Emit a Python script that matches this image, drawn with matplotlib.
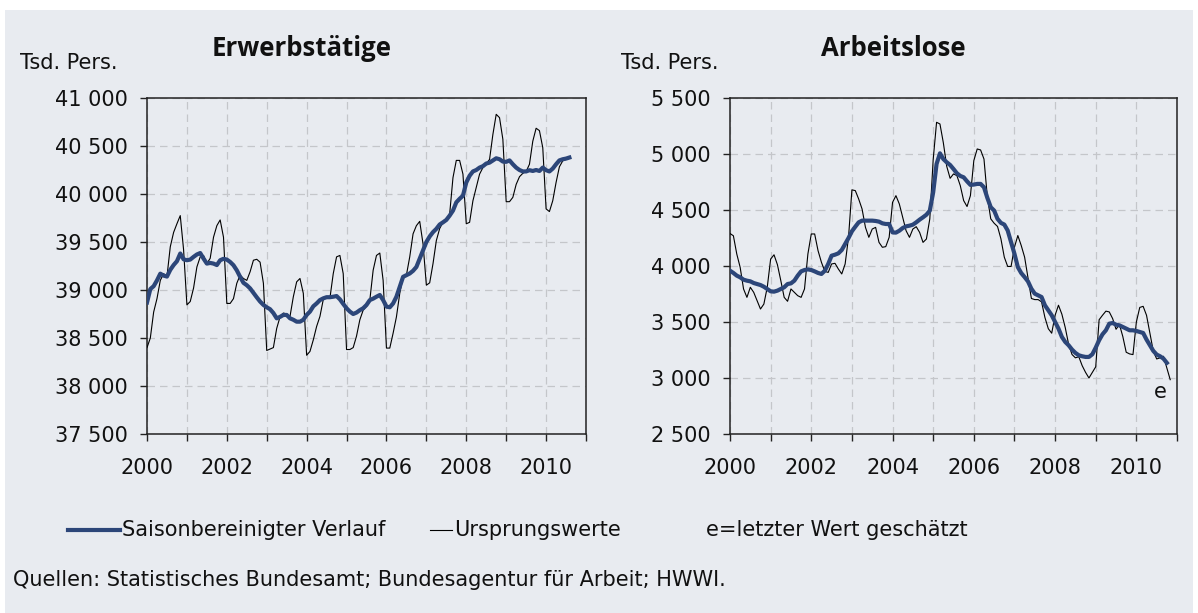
import numpy as np
import matplotlib
matplotlib.use("Agg")
import matplotlib.pyplot as plt
import matplotlib.patches as mpatches
from matplotlib.lines import Line2D
from matplotlib.ticker import FuncFormatter

plt.rcParams['font.family'] = ['DejaVu Sans']

# ---------------- data (monthly, Jan 2000 onwards) ----------------
erw_orig = [
    38400, 38500, 38770, 38910, 39100, 39170, 39140, 39450, 39600, 39690, 39775, 39420,
    38845, 38880, 39020, 39240, 39345, 39360, 39275, 39330, 39550, 39670, 39730, 39550,
    38860, 38860, 38910, 39070, 39155, 39120, 39100, 39190, 39310, 39320, 39290, 39070,
    38370, 38385, 38400, 38600, 38720, 38760, 38750, 38725, 38930, 39085, 39120, 38965,
    38320, 38360, 38480, 38620, 38725, 38900, 38930, 38915, 39170, 39345, 39360, 39170,
    38380, 38380, 38400, 38520, 38690, 38790, 38830, 38895, 39206, 39360, 39385, 39100,
    38395, 38395, 38550, 38720, 38965, 39137, 39155, 39345, 39585, 39670, 39715, 39480,
    39050, 39075, 39275, 39515, 39640, 39705, 39725, 39790, 40170, 40350, 40350, 40207,
    39690, 39705, 39930, 40070, 40207, 40275, 40317, 40360, 40620, 40830, 40795, 40570,
    39920, 39920, 39965, 40100, 40180, 40215, 40235, 40310, 40550, 40685, 40660, 40483,
    39845, 39817, 39930, 40120, 40283, 40345, 40360, 40372,
]
erw_sa = [
    38870, 39010, 39040, 39100, 39170, 39150, 39140, 39210, 39260, 39300, 39380, 39320,
    39310, 39317, 39345, 39370, 39385, 39327, 39275, 39282, 39275, 39260, 39310, 39325,
    39317, 39292, 39258, 39205, 39137, 39075, 39050, 39017, 38970, 38924, 38880, 38845,
    38820, 38800, 38760, 38705, 38720, 38740, 38740, 38705, 38690, 38670, 38670, 38690,
    38740, 38775, 38830, 38860, 38895, 38913, 38925, 38925, 38930, 38937, 38903, 38855,
    38810, 38775, 38750, 38765, 38790, 38810, 38844, 38895, 38910, 38930, 38948, 38895,
    38827, 38820, 38860, 38930, 39034, 39137, 39155, 39172, 39200, 39240, 39327, 39413,
    39500, 39558, 39603, 39637, 39682, 39705, 39730, 39775, 39827, 39913, 39950, 39982,
    40120, 40190, 40235, 40250, 40275, 40290, 40317, 40327, 40350, 40372, 40362, 40338,
    40335, 40350, 40310, 40275, 40250, 40235, 40235, 40248, 40240, 40250, 40240, 40275,
    40248, 40235, 40265, 40310, 40350, 40362, 40369, 40380,
]
al_orig = [
    4290, 4270, 4107, 3988, 3795, 3720, 3810, 3765, 3690, 3616, 3660, 3810,
    4062, 4100, 4012, 3870, 3720, 3685, 3795, 3765, 3735, 3720, 3795, 4107,
    4286, 4286, 4137, 4033, 3952, 3943, 4018, 4024, 3973, 3929, 4018, 4256,
    4680, 4673, 4598, 4509, 4345, 4256, 4330, 4345, 4211, 4167, 4173, 4256,
    4568, 4628, 4554, 4435, 4315, 4256, 4330, 4351, 4300, 4211, 4241, 4420,
    4950, 5283, 5268, 5100, 4890, 4783, 4822, 4807, 4718, 4584, 4531, 4629,
    4941, 5045, 5036, 4955, 4614, 4421, 4382, 4353, 4243, 4079, 3996, 3996,
    4168, 4272, 4183, 4079, 3895, 3710, 3700, 3700, 3680, 3540, 3440, 3400,
    3560, 3650, 3570, 3450, 3300, 3210, 3180, 3190, 3110, 3050, 3000, 3050,
    3100, 3520, 3560, 3597, 3590, 3530, 3435, 3478, 3370, 3230, 3215, 3209,
    3500, 3630, 3640, 3560, 3400, 3240, 3170, 3180, 3194, 3090, 2985,
]
al_sa = [
    3958, 3938, 3914, 3899, 3878, 3869, 3863, 3848, 3839, 3830, 3815, 3795,
    3774, 3771, 3780, 3795, 3810, 3839, 3845, 3869, 3914, 3952, 3964, 3970,
    3964, 3952, 3938, 3929, 3958, 4018, 4092, 4101, 4113, 4143, 4196, 4250,
    4310, 4351, 4390, 4405, 4405, 4405, 4405, 4402, 4396, 4381, 4375, 4375,
    4300, 4298, 4315, 4339, 4354, 4360, 4369, 4390, 4414, 4435, 4458, 4494,
    4658, 4911, 5006, 4955, 4926, 4902, 4866, 4828, 4804, 4792, 4756, 4724,
    4727, 4733, 4733, 4703, 4608, 4525, 4495, 4421, 4385, 4370, 4317, 4213,
    4109, 3990, 3937, 3901, 3862, 3797, 3753, 3738, 3723, 3649, 3604, 3560,
    3500, 3441, 3367, 3322, 3292, 3254, 3224, 3203, 3194, 3188, 3188, 3212,
    3271, 3337, 3390, 3426, 3485, 3491, 3476, 3470, 3456, 3441, 3426, 3426,
    3420, 3411, 3402, 3343, 3292, 3242, 3209, 3194, 3173, 3135,
]
start_year = 2000
year_ticks = list(range(2000, 2012))
year_labels = [str(y) if y % 2 == 0 and y < 2011 else '' for y in year_ticks]

titles = ['Erwerbstätige', 'Arbeitslose']
unit = 'Tsd. Pers.'
legend_sa = 'Saisonbereinigter Verlauf'
legend_orig = 'Ursprungswerte'
legend_note = 'e=letzter Wert geschätzt'
source = 'Quellen: Statistisches Bundesamt; Bundesagentur für Arbeit; HWWI.'

# ---------------- styling ----------------
W, H = 1198, 613
BG = '#e8ebf0'
BLUE = '#2c4679'
GRID = '#c4c6ca'
TXT = '#111111'
FS = 15
TITLE_FONT = dict(family=['Open Sans', 'DejaVu Sans'], fontsize=18.5, fontweight='bold')

fig = plt.figure(figsize=(W / 100, H / 100), dpi=100)
fig.patch.set_facecolor('white')
fig.patches.append(mpatches.Rectangle((5 / W, 0), (1193 - 5) / W, (613 - 10) / H,
                                      transform=fig.transFigure, facecolor=BG,
                                      edgecolor='none', zorder=-10))


def px(x0, y0, x1, y1):
    return [x0 / W, 1 - y1 / H, (x1 - x0) / W, (y1 - y0) / H]


def months(n):
    return start_year + np.arange(n) / 12.0


def fmt(v, pos):
    return f"{v:,.0f}".replace(',', ' ')


def setup(ax, ylim):
    ax.set_facecolor(BG)
    ax.set_xlim(2000, 2011)
    ax.set_ylim(*ylim)
    ax.set_yticks(np.arange(ylim[0], ylim[1] + 1, 500))
    ax.yaxis.set_major_formatter(FuncFormatter(fmt))
    ax.set_xticks(year_ticks)
    ax.set_xticklabels(year_labels)
    ax.grid(True, color=GRID, linestyle=(0, (6, 4)), linewidth=0.9)
    ax.set_axisbelow(True)
    for s in ax.spines.values():
        s.set_color('#222222')
        s.set_linewidth(1.1)
    ax.tick_params(axis='both', direction='out', length=5, width=1.0,
                   color='#222222', labelsize=FS, labelcolor=TXT)
    ax.tick_params(axis='y', pad=9)
    ax.tick_params(axis='x', pad=12)


ax1 = fig.add_axes(px(147, 98, 586, 434))
setup(ax1, (37500, 41000))
ax1.plot(months(len(erw_orig)), erw_orig, color='black', lw=0.8, zorder=3)
ax1.plot(months(len(erw_sa)), erw_sa, color=BLUE, lw=3.0, zorder=4)

ax2 = fig.add_axes(px(730, 98, 1177, 434))
setup(ax2, (2500, 5500))
ax2.plot(months(len(al_orig)), al_orig, color='black', lw=0.8, zorder=3)
ax2.plot(months(len(al_sa)), al_sa, color=BLUE, lw=3.0, zorder=4)
xe = months(len(al_orig))[-1]
ax2.annotate('e', xy=(xe, al_orig[-1]), xytext=(-7, -9), textcoords='offset points',
             ha='center', va='center', fontsize=FS, color=TXT)

# titles and unit labels
fig.text(302 / W, 1 - 48 / H, titles[0], ha='center', va='center', color=TXT, **TITLE_FONT)
fig.text(893 / W, 1 - 48 / H, titles[1], ha='center', va='center', color=TXT, **TITLE_FONT)
fig.text(20 / W, 1 - 63 / H, unit, ha='left', va='center', fontsize=FS, color=TXT)
fig.text(621 / W, 1 - 63 / H, unit, ha='left', va='center', fontsize=FS, color=TXT)

# legend
ly = 1 - 530 / H
fig.lines.append(Line2D([68 / W, 120 / W], [ly, ly], transform=fig.transFigure,
                        color=BLUE, lw=3.0))
fig.text(122 / W, ly, legend_sa, ha='left', va='center', fontsize=FS, color=TXT)
fig.lines.append(Line2D([430 / W, 452 / W], [ly, ly], transform=fig.transFigure,
                        color='black', lw=0.8))
fig.text(454 / W, ly, legend_orig, ha='left', va='center', fontsize=FS, color=TXT)
fig.text(706 / W, ly, legend_note, ha='left', va='center', fontsize=FS, color=TXT)

fig.text(13 / W, 1 - 580 / H, source, ha='left', va='center', fontsize=FS, color=TXT)

fig.savefig('out.png', dpi=100, facecolor='white')
